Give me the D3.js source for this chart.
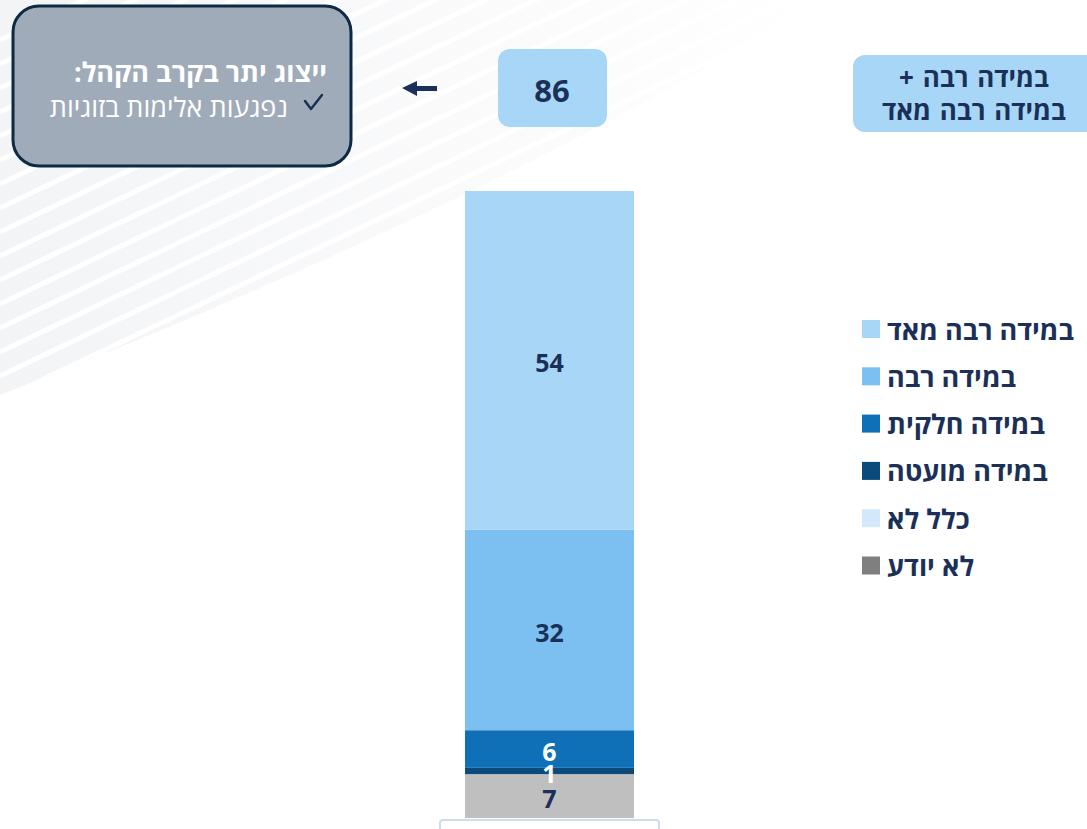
<!DOCTYPE html>
<html lang="he">
    <head>
        <meta charset="utf-8">
        <title>Stacked bar</title>
        <script src="https://d3js.org/d3.v7.min.js"></script>
        <style type="text/css">
            body { margin: 0; background: #ffffff; }
            svg { display: block; font-family: "Open Sans", "Liberation Sans", "DejaVu Sans", sans-serif; }
        </style>
    </head>
    <body>
        <script>
            // data (bottom to top of the stack)
            var categories = ["לא יודע", "כלל לא", "במידה מועטה", "במידה חלקית", "במידה רבה", "במידה רבה מאד"];
            var values = [7, 0, 1, 6, 32, 54];
            var barColors = ["#bfbfbf", "#d3e8fa", "#0b4a7a", "#0f70b7", "#7bc0f1", "#a8d6f6"];
            var legendColors = ["#7f7f7f", "#d3e8fa", "#0b4a7a", "#0f70b7", "#7bc0f1", "#a8d6f6"];
            var labelColors = ["#1b3058", "#1b3058", "#ffffff", "#ffffff", "#1b3058", "#1b3058"];

            var topTotal = 86;
            var topLabel = ["במידה רבה +", "במידה רבה מאד"];
            var noteTitle = "ייצוג יתר בקרב הקהל:";
            var noteItem = "נפגעות אלימות בזוגיות";

            // configuration code
            var outerWidth = 1087;
            var outerHeight = 829;
            var navy = "#1b3058";

            var svg = d3.select("body")
                .append("svg")
                .attr("width", outerWidth)
                .attr("height", outerHeight);

            // faint striped background in the top-left corner
            var defs = svg.append("defs");
            var grad = defs.append("linearGradient").attr("id", "bgfade")
                .attr("x1", "0%").attr("x2", "100%").attr("y1", "0%").attr("y2", "0%");
            grad.append("stop").attr("offset", "0%").attr("stop-color", "#f3f4f6");
            grad.append("stop").attr("offset", "100%").attr("stop-color", "#ffffff");
            defs.append("clipPath").attr("id", "bgclip")
                .append("path").attr("d", "M0,0 L820,0 Q500,200 0,395 Z");

            var bg = svg.append("g").attr("clip-path", "url(#bgclip)");
            bg.append("rect").attr("width", 820).attr("height", 400).attr("fill", "url(#bgfade)");
            for (var k = 0; k < 18; k++) {
                var y0 = 40 + k * 24;
                bg.append("line")
                    .attr("x1", 0).attr("y1", y0)
                    .attr("x2", 900).attr("y2", y0 - 430)
                    .attr("stroke", "#ffffff")
                    .attr("stroke-width", 5);
            }

            // bar
            var barX = 465, barW = 169;
            var yScale = d3.scaleLinear().domain([0, d3.sum(values)]).range([818, 191]);

            var stacked = [];
            var acc = 0;
            values.forEach(function(v, i) {
                stacked.push({ name: categories[i], v: v, y0: acc, y1: acc + v, i: i });
                acc += v;
            });

            svg.selectAll(".seg")
                .data(stacked)
                .enter()
                .append("rect")
                .attr("class", "seg")
                .attr("x", barX)
                .attr("width", barW)
                .attr("y", function(d) { return yScale(d.y1); })
                .attr("height", function(d) { return yScale(d.y0) - yScale(d.y1); })
                .attr("fill", function(d) { return barColors[d.i]; });

            svg.selectAll(".seglabel")
                .data(stacked.filter(function(d) { return d.v > 0; }))
                .enter()
                .append("text")
                .attr("class", "seglabel")
                .attr("x", barX + barW / 2)
                .attr("y", function(d) { return (yScale(d.y0) + yScale(d.y1)) / 2 + 2; })
                .attr("text-anchor", "middle")
                .attr("dominant-baseline", "central")
                .style("font-size", "25px")
                .style("font-weight", "bold")
                .attr("fill", function(d) { return labelColors[d.i]; })
                .text(function(d) { return d.v; });

            // category box below the bar (cut off at the bottom)
            svg.append("rect")
                .attr("x", 440).attr("y", 820)
                .attr("width", 219).attr("height", 30)
                .attr("rx", 3)
                .attr("fill", "#ffffff")
                .attr("stroke", "#c9dcf0")
                .attr("stroke-width", 2);

            // legend, top of stack first
            var legend = svg.selectAll(".legend")
                .data(stacked.slice().reverse())
                .enter()
                .append("g")
                .attr("class", "legend")
                .attr("transform", function(d, i) { return "translate(0," + (329 + i * 47.3) + ")"; });

            legend.append("rect")
                .attr("x", 862)
                .attr("y", -9)
                .attr("width", 18)
                .attr("height", 18)
                .attr("fill", function(d) { return legendColors[d.i]; });

            legend.append("text")
                .attr("x", 887)
                .attr("y", 0)
                .attr("direction", "rtl")
                .attr("text-anchor", "end")
                .attr("dominant-baseline", "central")
                .style("font-size", "27px")
                .style("font-weight", "bold")
                .attr("fill", navy)
                .text(function(d) { return d.name; });

            // top-right label box
            svg.append("rect")
                .attr("x", 853).attr("y", 55)
                .attr("width", 260).attr("height", 77)
                .attr("rx", 12)
                .attr("fill", "#a8d6f6");

            svg.selectAll(".toplabel")
                .data(topLabel)
                .enter()
                .append("text")
                .attr("class", "toplabel")
                .attr("x", 974)
                .attr("y", function(d, i) { return 77 + i * 33; })
                .attr("direction", "rtl")
                .attr("text-anchor", "middle")
                .attr("dominant-baseline", "central")
                .style("font-size", "26px")
                .style("font-weight", "bold")
                .style("word-spacing", "2px")
                .attr("fill", navy)
                .text(function(d) { return d; });

            // total box
            svg.append("rect")
                .attr("x", 498).attr("y", 49)
                .attr("width", 109).attr("height", 78)
                .attr("rx", 12)
                .attr("fill", "#a8d6f6");

            svg.append("text")
                .attr("x", 552).attr("y", 90)
                .attr("text-anchor", "middle")
                .attr("dominant-baseline", "central")
                .style("font-size", "31px")
                .style("font-weight", "bold")
                .attr("fill", navy)
                .text(topTotal);

            // arrow pointing to the note
            svg.append("path")
                .attr("d", "M402,88 L417,81 L417,86 L437,86 L437,91 L417,91 L417,96 Z")
                .attr("fill", navy);

            // note box
            svg.append("rect")
                .attr("x", 13).attr("y", 6)
                .attr("width", 338).attr("height", 160)
                .attr("rx", 26)
                .attr("fill", "#a0abba")
                .attr("stroke", "#0d2a45")
                .attr("stroke-width", 3);

            svg.append("text")
                .attr("x", 327).attr("y", 71)
                .attr("direction", "rtl")
                .attr("text-anchor", "start")
                .attr("dominant-baseline", "central")
                .style("font-size", "27px")
                .style("font-weight", "bold")
                .attr("fill", "#ffffff")
                .text(noteTitle);

            // check mark
            svg.append("path")
                .attr("d", "M305,101 L311,109 L322,95")
                .attr("fill", "none")
                .attr("stroke", navy)
                .attr("stroke-width", 2.5)
                .attr("stroke-linecap", "round")
                .attr("stroke-linejoin", "round");

            svg.append("text")
                .attr("x", 288).attr("y", 106)
                .attr("direction", "rtl")
                .attr("text-anchor", "start")
                .attr("dominant-baseline", "central")
                .style("font-size", "27px")
                .attr("fill", "#ffffff")
                .text(noteItem);
        </script>
    </body>
</html>
